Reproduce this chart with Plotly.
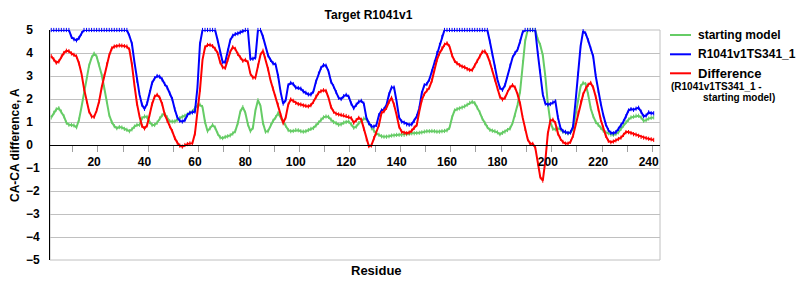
import plotly.graph_objects as go

residues = list(range(3, 243))

starting_model = [
    1.2, 1.4, 1.55, 1.6, 1.45, 1.25, 0.97, 0.88, 0.87, 0.85,      # 3-12
    0.77, 1.1, 1.65, 2.3, 2.9, 3.45, 3.8, 3.97, 3.85, 3.5,        # 13-22
    3.05, 2.5, 1.9, 1.3, 1.0, 0.82, 0.73, 0.78, 0.76, 0.7,        # 23-32
    0.66, 0.6, 0.68, 0.8, 0.87, 0.88, 1.17, 1.24, 1.22, 1.0,      # 33-42
    0.87, 0.87, 0.97, 1.15, 1.3, 1.35, 1.2, 1.03, 1.02, 1.02,     # 43-52
    1.1, 1.17, 1.23, 1.27, 1.33, 1.38, 1.46, 1.6, 1.72, 1.75,     # 53-62
    1.65, 1.0, 0.6, 0.73, 0.87, 0.76, 0.5, 0.33, 0.3, 0.35,       # 63-72
    0.38, 0.42, 0.5, 0.6, 0.95, 1.45, 1.65, 1.4, 0.9, 0.6,        # 73-82
    0.75, 1.5, 1.95, 1.7, 0.95, 0.58, 0.6, 0.85, 1.05, 1.2,       # 83-92
    1.38, 1.2, 1.02, 0.85, 0.65, 0.6, 0.61, 0.65, 0.64, 0.6,      # 93-102
    0.58, 0.6, 0.65, 0.7, 0.74, 0.85, 0.97, 1.1, 1.2, 1.24,       # 103-112
    1.22, 1.1, 1.0, 0.95, 0.88, 0.9, 0.97, 1.0, 1.02, 0.9,        # 113-122
    0.75, 0.8, 0.95, 1.03, 1.15, 1.12, 0.95, 0.73, 0.62, 0.5,     # 123-132
    0.44, 0.38, 0.36, 0.36, 0.38, 0.41, 0.42, 0.44, 0.44, 0.44,   # 133-142
    0.44, 0.47, 0.49, 0.51, 0.51, 0.52, 0.53, 0.55, 0.58, 0.6,    # 143-152
    0.6, 0.61, 0.6, 0.58, 0.58, 0.6, 0.61, 0.64, 0.75, 1.2,       # 153-162
    1.5, 1.56, 1.59, 1.63, 1.68, 1.75, 1.83, 1.87, 1.82, 1.62,    # 163-172
    1.42, 1.15, 0.95, 0.78, 0.66, 0.62, 0.6, 0.55, 0.47, 0.53,    # 173-182
    0.58, 0.65, 0.72, 0.95, 1.3, 1.75, 2.33, 3.6, 4.52, 5.0,      # 183-192
    5.0, 5.0, 5.0, 4.6, 4.35, 3.9, 3.0, 1.8, 1.0, 0.7,            # 193-202
    0.68, 0.72, 0.68, 0.58, 0.53, 0.51, 0.54, 0.7, 1.3, 1.95,     # 203-212
    2.55, 2.7, 2.65, 2.2, 1.6, 1.25, 1.0, 0.88, 0.75, 0.62,       # 213-222
    0.55, 0.51, 0.45, 0.44, 0.48, 0.55, 0.7, 0.85, 1.0, 1.1,      # 223-232
    1.2, 1.23, 1.27, 1.27, 1.2, 1.05, 1.08, 1.15, 1.18, 1.2,      # 233-242
]

model_ts341 = [
    5, 5, 5, 5, 5, 5, 5, 5, 4.7, 4.6,                             # 3-12
    4.55, 4.65, 4.85, 5, 5, 5, 5, 5, 5, 5,                        # 13-22
    5, 5, 5, 5, 5, 5, 5, 5, 5, 5,                                 # 23-32
    5, 4.75, 4.4, 3.6, 2.8, 2.2, 1.75, 1.57, 1.8, 2.3,            # 33-42
    2.7, 2.9, 3.0, 2.97, 2.85, 2.65, 2.5, 2.25, 2.0, 1.55,        # 43-52
    1.2, 1.05, 1.02, 1.08, 1.3, 1.4, 1.42, 1.45, 2.5, 4.4,        # 53-62
    5, 5, 5, 5, 5, 5, 4.55, 4.0, 3.6, 3.6,                        # 63-72
    4.1, 4.55, 4.75, 4.82, 4.85, 4.9, 4.95, 5, 5, 3.75,           # 73-82
    3.75, 3.8, 5, 5, 4.7, 4.3, 3.9, 3.7, 3.55, 3.5,               # 83-92
    3.0, 2.3, 1.8, 1.95, 2.6, 2.7, 2.65, 2.5, 2.48, 2.45,         # 93-102
    2.33, 2.27, 2.2, 2.2, 2.33, 2.75, 3.1, 3.35, 3.47, 3.45,      # 103-112
    3.2, 2.75, 2.55, 2.3, 2.05, 2.0, 2.12, 2.18, 2.1, 1.8,        # 113-122
    1.6, 1.75, 1.88, 1.92, 1.8, 1.2, 0.95, 0.82, 0.8, 0.87,       # 123-132
    1.3, 1.5, 1.55, 1.75, 2.2, 2.5, 2.5, 1.9, 1.2, 1.02,          # 133-142
    0.97, 0.9, 0.88, 0.9, 1.05, 1.25, 1.6, 2.26, 2.6, 2.65,       # 143-152
    2.85, 3.2, 3.6, 4.0, 4.35, 4.7, 5, 5, 5, 5,                   # 153-162
    5, 5, 5, 5, 5, 5, 5, 5, 5, 5,                                 # 163-172
    5, 5, 5, 5, 4.5, 3.94, 3.4, 2.85, 2.48, 2.4,                  # 173-182
    2.6, 3.0, 3.45, 3.8, 4.0, 4.15, 4.5, 4.9, 5, 5,               # 183-192
    5, 5, 5, 4.0, 3.2, 2.2, 1.8, 1.76, 1.78, 1.85,                # 193-202
    1.9, 1.2, 0.75, 0.6, 0.57, 0.52, 0.55, 0.8, 1.9, 3.1,         # 203-212
    4.3, 4.95, 4.85, 4.55, 4.2, 3.85, 3.0, 2.35, 1.8, 1.3,        # 213-222
    0.9, 0.65, 0.53, 0.51, 0.56, 0.7, 0.85, 1.02, 1.25, 1.5,      # 223-232
    1.56, 1.53, 1.58, 1.62, 1.45, 1.25, 1.28, 1.42, 1.38, 1.38,   # 233-242
]

difference = [
    3.86, 3.72, 3.58, 3.63, 3.85, 4.0, 4.1, 4.08, 3.98, 3.92,     # 3-12
    3.85, 3.55, 3.1, 2.45, 1.9, 1.46, 1.24, 1.22, 1.5, 1.9,       # 13-22
    2.5, 3.0, 3.5, 3.9, 4.2, 4.28, 4.3, 4.33, 4.32, 4.3,          # 23-32
    4.28, 4.15, 3.5, 2.6, 1.8, 1.25, 0.83, 0.72, 0.85, 1.3,       # 33-42
    1.78, 2.1, 2.18, 2.06, 1.78, 1.33, 1.05, 0.82, 0.6, 0.3,      # 43-52
    0.1, -0.03, -0.07, 0.0, 0.04, 0.07, 0.08, 0.5, 1.4, 2.4,      # 53-62
    3.7, 4.25, 4.35, 4.35, 4.3, 4.18, 4.0, 3.6, 3.38, 3.35,       # 63-72
    3.7, 4.05, 4.25, 4.18, 3.96, 3.8, 3.66, 3.7, 3.6, 3.1,        # 73-82
    2.93, 2.93, 3.45, 3.92, 4.1, 3.75, 3.3, 2.8, 2.45, 2.1,       # 83-92
    1.75, 1.3, 0.95, 1.2, 1.75, 1.98, 1.92, 1.83, 1.78, 1.76,     # 93-102
    1.72, 1.7, 1.68, 1.73, 1.88, 2.1, 2.26, 2.34, 2.38, 2.35,     # 103-112
    2.05, 1.65, 1.45, 1.36, 1.33, 1.31, 1.29, 1.26, 1.22, 1.17,   # 113-122
    0.97, 1.08, 1.18, 1.1, 0.7, 0.25, -0.05, -0.02, 0.3, 0.55,    # 123-132
    0.87, 1.38, 1.47, 1.62, 1.88, 2.05, 1.75, 1.3, 0.8, 0.58,     # 133-142
    0.53, 0.51, 0.54, 0.62, 0.75, 0.87, 1.45, 1.95, 2.22, 2.38,   # 143-152
    2.5, 2.8, 3.3, 3.7, 3.98, 4.2, 4.36, 4.42, 4.28, 3.9,         # 153-162
    3.66, 3.55, 3.47, 3.41, 3.38, 3.3, 3.26, 3.26, 3.45, 3.65,    # 163-172
    3.85, 4.05, 4.07, 3.9, 3.6, 3.25, 2.85, 2.45, 2.1, 1.98,      # 173-182
    2.05, 2.3, 2.5, 2.6, 2.5, 2.2, 1.8, 1.2, 0.7, 0.25,           # 183-192
    0.05, 0.05, -0.1, -0.8, -1.4, -1.55, -0.7, 0.5, 1.05, 1.1,    # 193-202
    0.95, 0.5, 0.27, 0.13, 0.06, 0.06, 0.14, 0.4, 0.85, 1.4,      # 203-212
    1.85, 2.2, 2.45, 2.62, 2.7, 2.5, 2.1, 1.55, 1.1, 0.75,        # 213-222
    0.4, 0.18, 0.12, 0.15, 0.2, 0.26, 0.32, 0.44, 0.56, 0.56,     # 223-232
    0.52, 0.47, 0.45, 0.4, 0.35, 0.32, 0.3, 0.27, 0.25, 0.22,     # 233-242
]

series_names = ["starting model", "R1041v1TS341_1", "Difference"]
series_colors = ["#66cc66", "#0000ff", "#ff0000"]

x_tick_vals = list(range(20, 241, 20))
y_tick_vals = list(range(-5, 6))
y_tick_text = [("\u2212%d" % -v) if v < 0 else ("%d\u2007" % v) for v in y_tick_vals]

FONT = "Liberation Sans, Arial, sans-serif"

fig = go.Figure()
for name, vals, col in zip(series_names, [starting_model, model_ts341, difference], series_colors):
    fig.add_trace(go.Scatter(
        x=residues, y=vals, name=name, mode="lines+markers",
        line=dict(color=col, width=2),
        marker=dict(symbol="line-ns", size=3, color=col, line=dict(color=col, width=1)),
        cliponaxis=False, showlegend=False,
    ))

L, R, T, B = 50, 140, 30, 40
W, H = 800, 300
pw, ph = W - L - R, H - T - B


def px(xp):
    return (xp - L) / pw


def py(yp):
    return (H - B - yp) / ph


shapes = [dict(type="rect", xref="paper", yref="paper", x0=0, x1=1, y0=0, y1=1,
               line=dict(color="#c0c0c0", width=1), layer="below")]
annotations = []
legend_rows = [35, 54.3, 73.3]
for name, col, yy in zip(series_names, series_colors, legend_rows):
    shapes.append(dict(type="line", xref="paper", yref="paper", x0=px(670), x1=px(691),
                       y0=py(yy), y1=py(yy), line=dict(color=col, width=2)))
    annotations.append(dict(xref="paper", yref="paper", x=px(696), y=py(yy), xanchor="left",
                            yanchor="middle", showarrow=False, text=name,
                            font=dict(family=FONT, size=13 if name == "Difference" else 12,
                                      color="black", weight="bold")))
annotations.append(dict(xref="paper", yref="paper", x=px(669), y=py(86), xanchor="left",
                        yanchor="middle", showarrow=False, text="(R1041v1TS341_1 -",
                        font=dict(family=FONT, size=10, color="black", weight="bold")))
annotations.append(dict(xref="paper", yref="paper", x=px(701), y=py(97), xanchor="left",
                        yanchor="middle", showarrow=False, text="starting model)",
                        font=dict(family=FONT, size=10, color="black", weight="bold")))
annotations.append(dict(xref="paper", yref="paper", x=px(376), y=py(270), xanchor="center",
                        yanchor="middle", showarrow=False, text="Residue",
                        font=dict(family=FONT, size=13, color="black", weight="bold")))
annotations.append(dict(xref="paper", yref="paper", x=px(15), y=0.5, xanchor="center",
                        yanchor="middle", showarrow=False, text="CA-CA difference, A", textangle=-90,
                        font=dict(family=FONT, size=12, color="black", weight="bold")))

fig.update_layout(
    width=W, height=H, margin=dict(l=L, r=R, t=T, b=B),
    paper_bgcolor="white", plot_bgcolor="white",
    title=dict(text="Target R1041v1", x=368.5 / W, xanchor="center", y=1 - 15 / H, yanchor="middle",
               font=dict(family=FONT, size=12, color="black", weight="bold")),
    xaxis=dict(range=[2.5, 244.5], anchor="free", position=0.5, showgrid=False, zeroline=False,
               showline=True, linecolor="black", linewidth=1,
               tickmode="array", tickvals=x_tick_vals, ticks="",
               ticklabelstandoff=6,
               tickfont=dict(family=FONT, size=12, color="black", weight="bold"),
               minor=dict(tickmode="linear", tick0=1.5, dtick=10, ticks="outside", ticklen=6,
                          tickcolor="#a0a0a0", showgrid=False)),
    yaxis=dict(range=[-5, 5], tickmode="array", tickvals=y_tick_vals, ticktext=y_tick_text,
               showgrid=True, gridcolor="#c0c0c0", gridwidth=1, zeroline=False,
               showline=True, linecolor="black", linewidth=1, ticks="",
               ticklabelstandoff=7,
               tickfont=dict(family=FONT, size=12, color="black", weight="bold")),
    shapes=shapes, annotations=annotations, showlegend=False,
)

fig.write_html("out.html")
